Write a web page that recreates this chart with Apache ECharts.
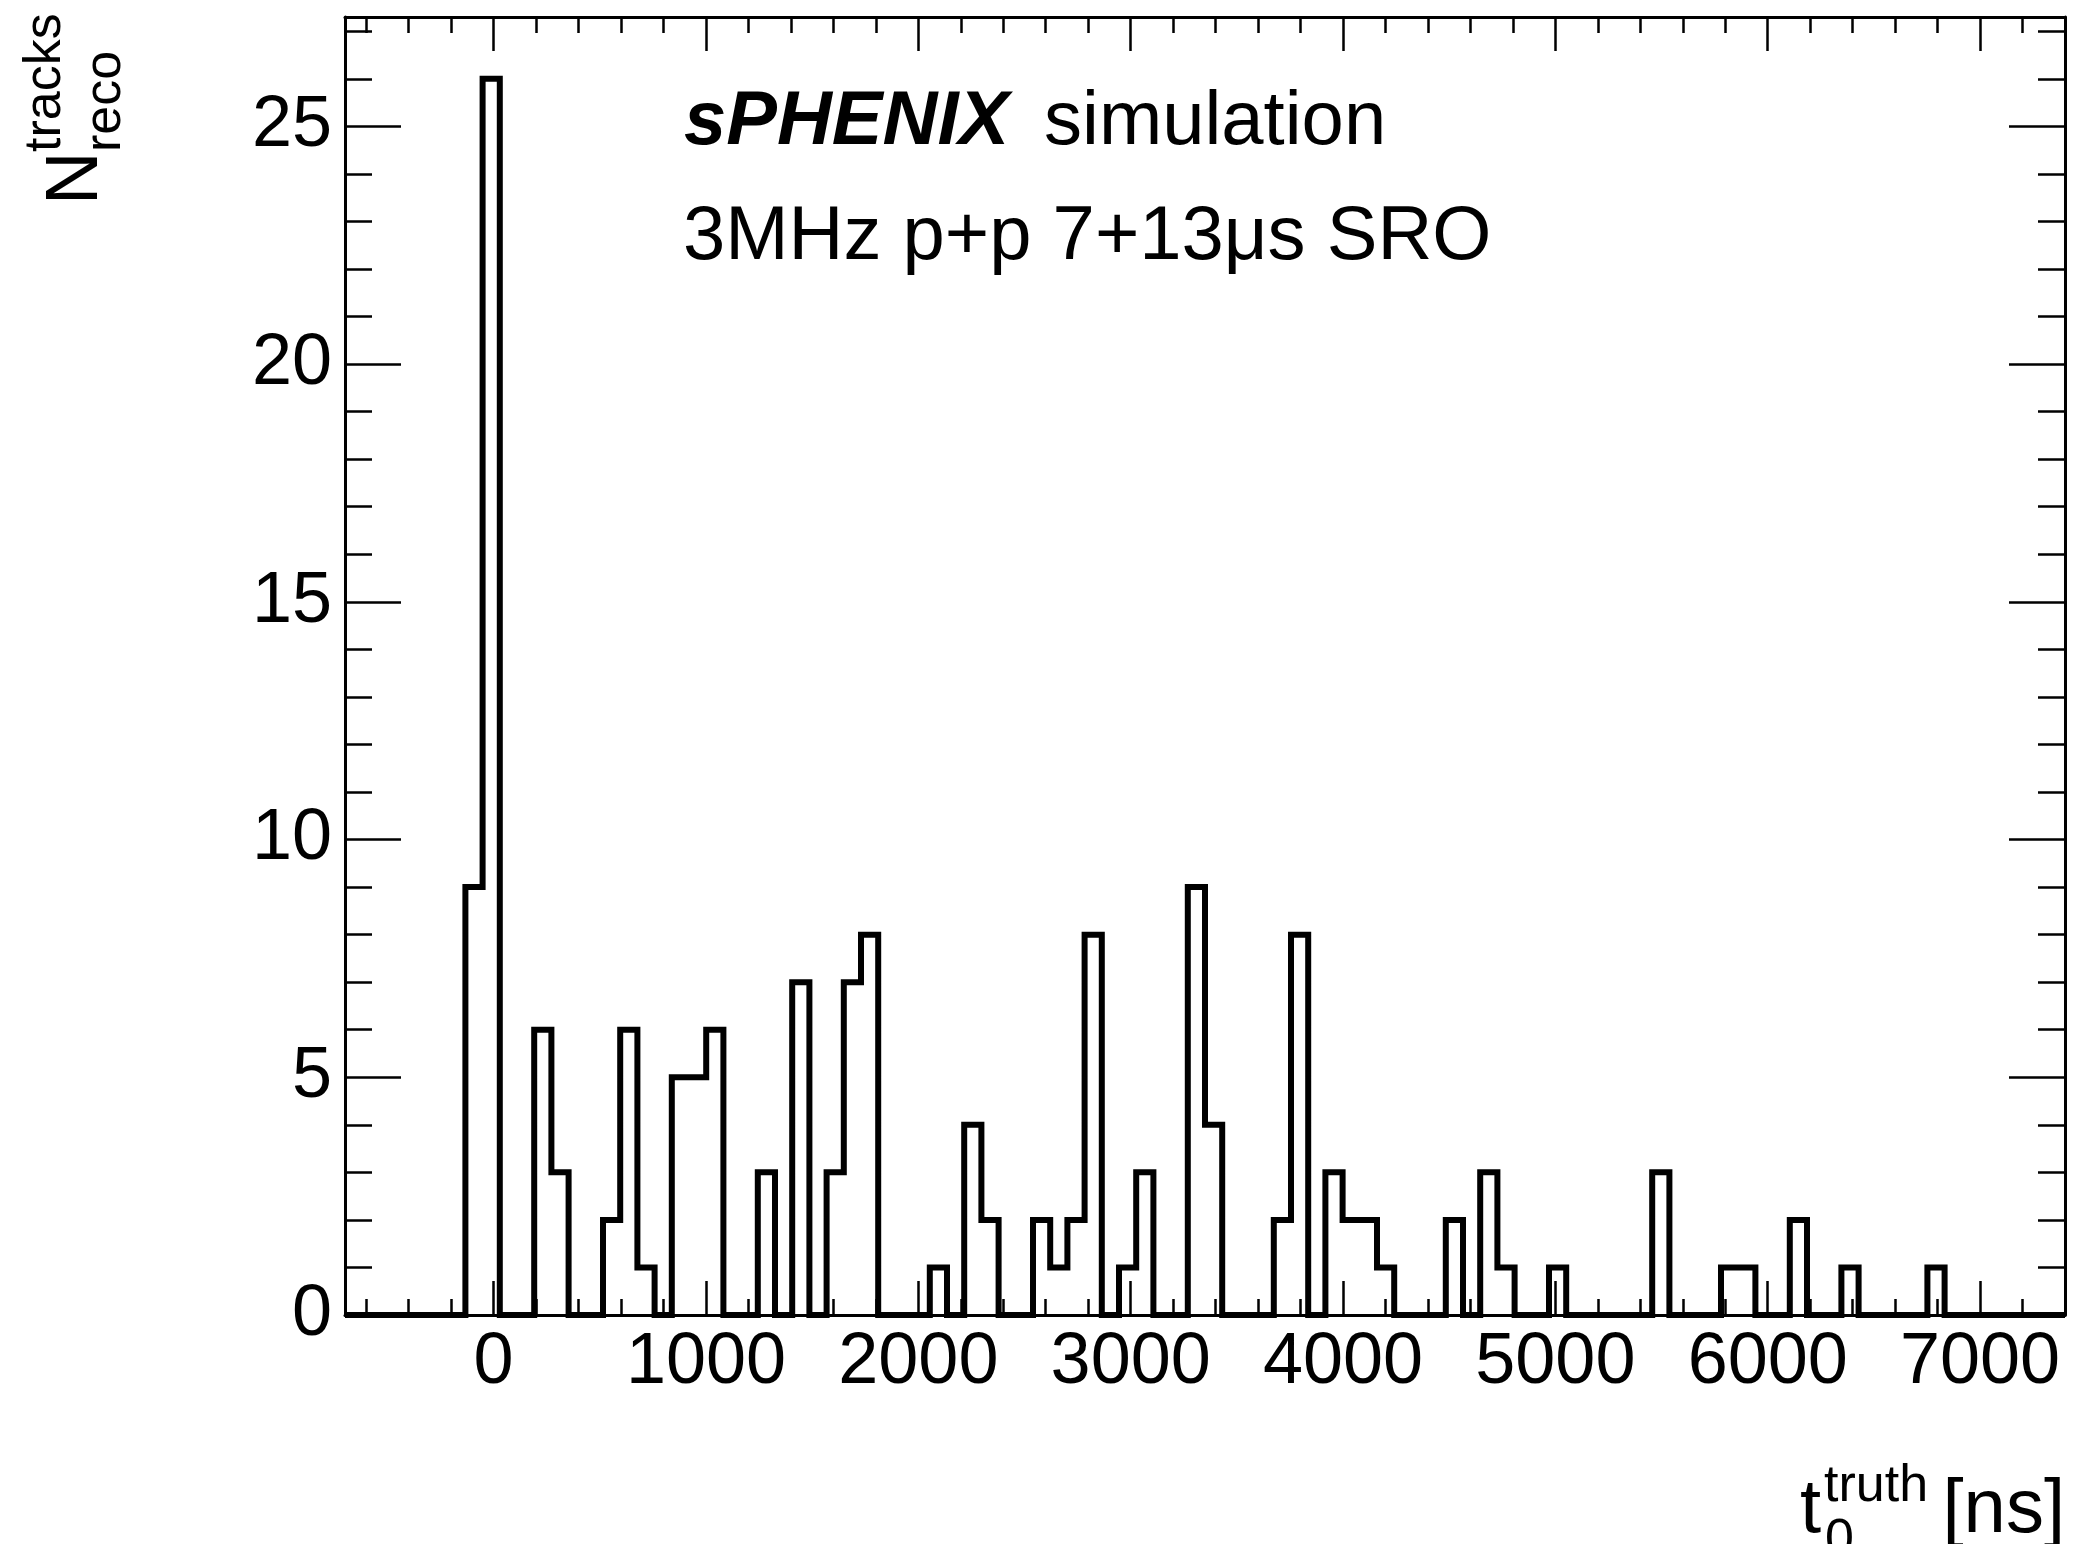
<!DOCTYPE html>
<html>
<head>
<meta charset="utf-8">
<title>sPHENIX t0 truth</title>
<script src="https://cdn.jsdelivr.net/npm/echarts@6/dist/echarts.min.js"></script>
<style>
  html, body { margin: 0; padding: 0; background: #fff; }
  #chart { width: 2074px; height: 1544px; }
</style>
</head>
<body>
<div id="chart"></div>
<script>
// histogram binning, ns
const xMin = -700
const xMax = 7400
const binWidth = 81

// reconstructed tracks per bin (100 bins)
const counts = [
  0, 0, 0, 0, 0, 0, 0, 9, 26, 0,
  0, 6, 3, 0, 0, 2, 6, 1, 0, 5,
  5, 6, 0, 0, 3, 0, 7, 0, 3, 7,
  8, 0, 0, 0, 1, 0, 4, 2, 0, 0,
  2, 1, 2, 8, 0, 1, 3, 0, 0, 9,
  4, 0, 0, 0, 2, 8, 0, 3, 2, 2,
  1, 0, 0, 0, 2, 0, 3, 1, 0, 0,
  1, 0, 0, 0, 0, 0, 3, 0, 0, 0,
  1, 1, 0, 0, 2, 0, 0, 1, 0, 0,
  0, 0, 1, 0, 0, 0, 0, 0, 0, 0,
]

const yMax = 27.3

// tick labels
const xMajorTicks = [0, 1000, 2000, 3000, 4000, 5000, 6000, 7000]
const yMajorTicks = [0, 5, 10, 15, 20, 25]

// minor ticks: every 200 ns on x, every 1 on y
const xMinorTicks = []
for (let v = -600; v < xMax; v += 200) {
  if (v % 1000 !== 0) xMinorTicks.push(v)
}
const yMinorTicks = []
for (let v = 1; v < yMax; v++) {
  if (v % 5 !== 0) yMinorTicks.push(v)
}

// step outline points at the bin low edges
const outline = counts.map((c, i) => [xMin + i * binWidth, c])
outline.push([xMax, counts[counts.length - 1]])

const FONT = "'Liberation Sans', Arial, Helvetica, sans-serif"

function xAxisDef(position, ticks, len, showLine, showLabels) {
  return {
    type: 'value',
    position: position,
    min: xMin,
    max: xMax,
    axisLine: { show: showLine, onZero: false, lineStyle: { color: '#000', width: 3 } },
    axisTick: { show: true, inside: true, length: len, customValues: ticks, lineStyle: { color: '#000', width: 2.5 } },
    axisLabel: {
      show: showLabels,
      customValues: ticks,
      formatter: (v) => String(v), // no thousands separator
      color: '#000',
      fontFamily: FONT,
      fontSize: 72,
      margin: 12,
    },
    splitLine: { show: false },
  }
}

function yAxisDef(position, ticks, len, showLine, showLabels) {
  return {
    type: 'value',
    position: position,
    min: 0,
    max: yMax,
    axisLine: { show: showLine, onZero: false, lineStyle: { color: '#000', width: 3 } },
    axisTick: { show: true, inside: true, length: len, customValues: ticks, lineStyle: { color: '#000', width: 2.5 } },
    axisLabel: {
      show: showLabels,
      customValues: ticks,
      formatter: (v) => String(v),
      color: '#000',
      fontFamily: FONT,
      fontSize: 72,
      margin: 13,
    },
    splitLine: { show: false },
  }
}

// text helper, baseline is the text baseline in px
function label(text, x, baseline, size, fontStyle, align) {
  return {
    type: 'text',
    silent: true,
    style: {
      text: text,
      x: x,
      y: baseline - 0.31 * size,
      font: (fontStyle ? fontStyle + ' ' : '') + size + 'px ' + FONT,
      fill: '#000',
      align: align || 'left',
      textAlign: align || 'left',
      verticalAlign: 'middle',
      textVerticalAlign: 'middle',
    },
  }
}

const chart = echarts.init(document.getElementById('chart'), null, { renderer: 'canvas' })

chart.setOption({
  animation: false,
  backgroundColor: '#fff',
  grid: {
    left: 345,
    right: 9,
    top: 17,
    bottom: 229,
    containLabel: false,
  },
  xAxis: [
    xAxisDef('bottom', xMajorTicks, 34, true, true),
    xAxisDef('bottom', xMinorTicks, 16, false, false),
    xAxisDef('top', xMajorTicks, 34, true, false),
    xAxisDef('top', xMinorTicks, 16, false, false),
  ],
  yAxis: [
    yAxisDef('left', yMajorTicks, 56, true, true),
    yAxisDef('left', yMinorTicks, 27, false, false),
    yAxisDef('right', yMajorTicks, 56, true, false),
    yAxisDef('right', yMinorTicks, 27, false, false),
  ],
  series: [
    {
      type: 'line',
      step: 'end',
      xAxisIndex: 0,
      yAxisIndex: 0,
      data: outline,
      symbol: 'none',
      clip: false,
      silent: true,
      lineStyle: { color: '#000', width: 6, join: 'miter' },
    },
  ],
  graphic: [
    // plot annotations
    label('sPHENIX', 684, 147, 76, 'italic bold'),
    label('simulation', 1044, 147, 76),
    label('3MHz p+p 7+13μs SRO', 683, 262, 76),
    // x axis title: t_0^truth [ns]
    label('t', 1800, 1535, 76),
    label('truth', 1824, 1503, 52),
    label('0', 1825, 1557, 52),
    label('[ns]', 2065, 1535, 76, '', 'right'),
    // y axis title: N_reco^tracks, rotated to read upwards
    {
      type: 'group',
      x: 100,
      y: 200,
      rotation: Math.PI / 2,
      children: [
        label('N', -5, 0, 74),
        label('tracks', 48, -38, 52),
        label('reco', 48, 22, 52),
      ],
    },
  ],
})
</script>
</body>
</html>
